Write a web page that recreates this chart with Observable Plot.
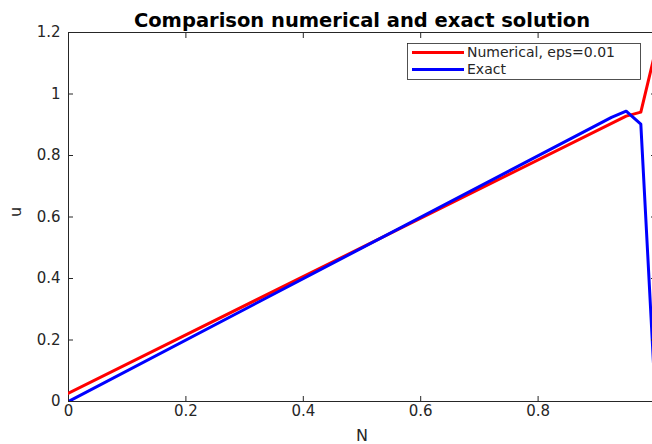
<!DOCTYPE html>
<html>
<head>
<meta charset="utf-8">
<script src="https://cdn.jsdelivr.net/npm/d3@7"></script>
<script src="https://cdn.jsdelivr.net/npm/@observablehq/plot@0.6"></script>
<style>
  html, body { margin: 0; padding: 0; background: #fff; overflow: hidden; width: 652px; height: 444px; }
  #chart { position: relative; width: 660px; }
  svg { font-family: "DejaVu Sans", sans-serif; }
</style>
</head>
<body>
<div id="chart"></div>
<script>
// Data
const numN = [0, 0.95, 0.975, 1];
const numU = [0.027, 0.928, 0.941, 1.14];
const exactN = [0, 0.925, 0.95, 0.975, 1];
const exactU = [0, 0.924, 0.944, 0.902, 0];
const xTicks = [0, 0.2, 0.4, 0.6, 0.8, 1];
const yTicks = [0, 0.2, 0.4, 0.6, 0.8, 1, 1.2];
const seriesNames = ["Numerical, eps=0.01", "Exact"];
const seriesColors = ["#ff0000", "#0000ff"];
const titleText = "Comparison numerical and exact solution";

const numerical = numN.map((n, i) => ({N: n, u: numU[i]}));
const exact = exactN.map((n, i) => ({N: n, u: exactU[i]}));
const fmt = d3.format("~g");
const axisColor = "#262626";

const W = 660, H = 444;
const mL = 68, mR = 5, mT = 32, mB = 43;

const plot = Plot.plot({
  width: W,
  height: H,
  marginLeft: mL,
  marginRight: mR,
  marginTop: mT,
  marginBottom: mB,
  style: {fontFamily: "DejaVu Sans, sans-serif", background: "#fff", overflow: "visible"},
  x: {domain: [0, 1], label: null},
  y: {domain: [0, 1.2], label: null},
  marks: [
    Plot.frame({stroke: axisColor, strokeWidth: 1}),
    Plot.line(numerical, {x: "N", y: "u", stroke: seriesColors[0], strokeWidth: 3, clip: true}),
    Plot.line(exact, {x: "N", y: "u", stroke: seriesColors[1], strokeWidth: 3, clip: true}),
    // inward ticks
    Plot.axisX(xTicks, {anchor: "bottom", tickSize: -5, text: null, stroke: axisColor, label: null}),
    Plot.axisX(xTicks, {anchor: "top", tickSize: -5, text: null, stroke: axisColor, label: null}),
    Plot.axisY(yTicks, {anchor: "left", tickSize: -5, text: null, stroke: axisColor, label: null}),
    Plot.axisY(yTicks, {anchor: "right", tickSize: -5, text: null, stroke: axisColor, label: null}),
    // tick labels
    Plot.axisX(xTicks, {anchor: "bottom", tickSize: 0, tickPadding: 4, tickFormat: fmt, fontSize: 15, fill: axisColor, label: null}),
    Plot.axisY(yTicks, {anchor: "left", tickSize: 0, tickPadding: 8, tickFormat: fmt, fontSize: 15, fill: axisColor, label: null}),
    // axis labels & title
    Plot.text(["N"], {frameAnchor: "bottom", dy: 34, fontSize: 16, fill: axisColor, lineAnchor: "middle"}),
    Plot.text(["u"], {frameAnchor: "left", dx: -53, rotate: -90, fontSize: 16, fill: axisColor}),
    Plot.text([titleText], {frameAnchor: "top", dy: -6, fontSize: 19.5, fontWeight: "bold", fill: "#000", lineAnchor: "bottom"})
  ]
});

document.getElementById("chart").appendChild(plot);

// Legend
const svg = d3.select(plot);
const lg = svg.append("g").attr("font-family", "DejaVu Sans, sans-serif").attr("font-size", 14).attr("text-anchor", "start");
lg.append("rect").attr("x", 407.5).attr("y", 43.5).attr("width", 233).attr("height", 36)
  .attr("fill", "#fff").attr("stroke", axisColor).attr("stroke-width", 0.8);
seriesNames.forEach((name, i) => {
  const y = 52.5 + i * 17;
  lg.append("line").attr("x1", 412).attr("x2", 464).attr("y1", y).attr("y2", y)
    .attr("stroke", seriesColors[i]).attr("stroke-width", 3);
  lg.append("text").attr("x", 467).attr("y", y).attr("dy", "0.35em").attr("text-anchor", "start").attr("fill", axisColor).text(name);
});
</script>
</body>
</html>
